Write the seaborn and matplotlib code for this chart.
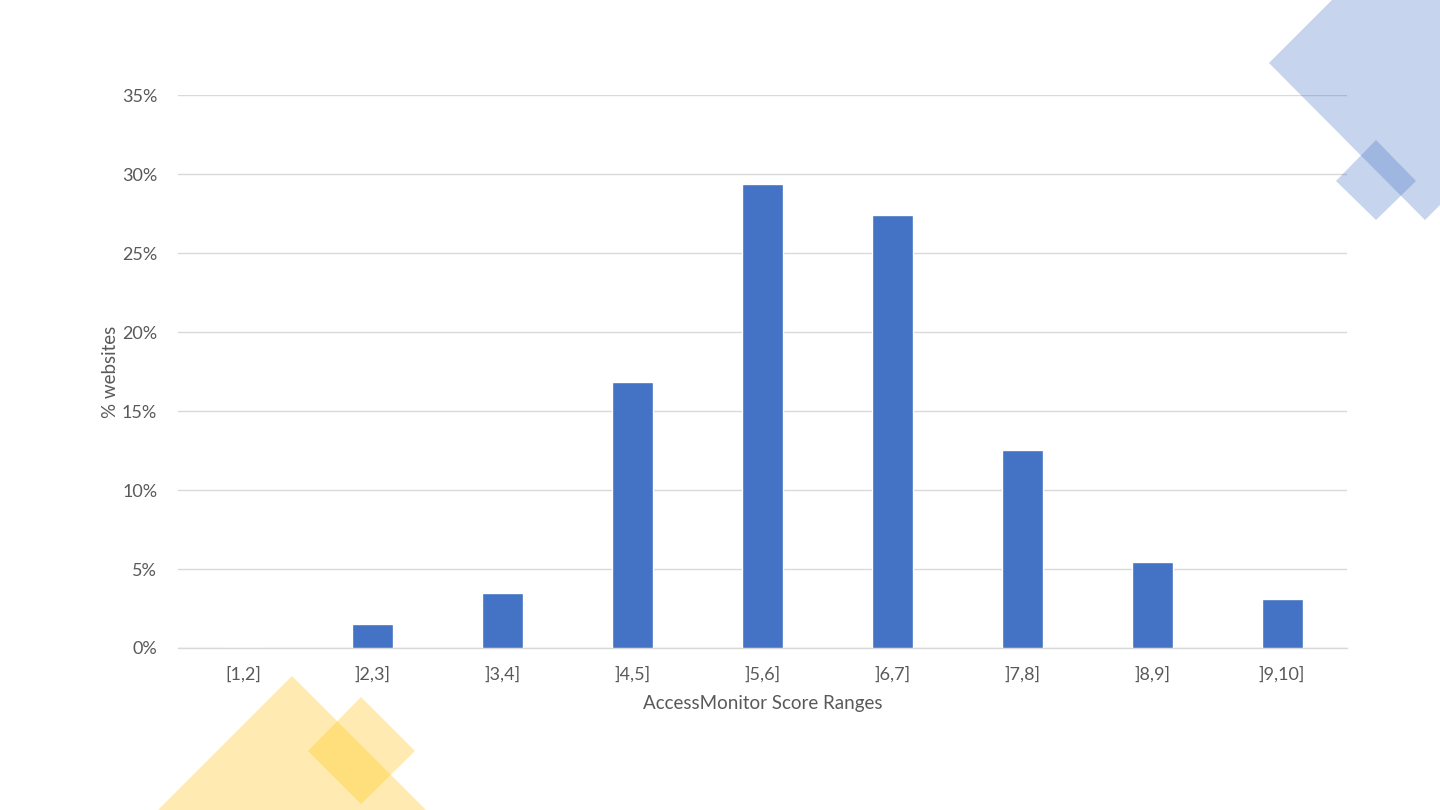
import numpy as np
import pandas as pd
import matplotlib
matplotlib.use("Agg")
import matplotlib.pyplot as plt
import seaborn as sns
from matplotlib.patches import Polygon
from matplotlib.ticker import PercentFormatter

# Score ranges and share of websites (%)
score_ranges = ["[1,2]", "]2,3]", "]3,4]", "]4,5]", "]5,6]", "]6,7]", "]7,8]", "]8,9]", "]9,10]"]
pct_websites = [0.0, 1.5, 3.5, 16.85, 29.35, 27.4, 12.55, 5.45, 3.1]

df = pd.DataFrame({"range": score_ranges, "pct": pct_websites})

sns.set_theme(style="white")
plt.rcParams["font.family"] = ["Lato", "DejaVu Sans"]

fig = plt.figure(figsize=(14.4, 8.1), dpi=100)
fig.patch.set_facecolor("white")

# Decorative shapes (figure pixel coords, y from top)
def px(points):
    return [(x / 1440, 1 - y / 810) for x, y in points]

blue = "#4472C4"
yellow = "#FFC000"
shapes = [
    (px([(1269, 63), (1469, -137), (1625, 20), (1425, 220)]), blue),
    (px([(1376, 140), (1416, 181), (1376, 220), (1336, 181)]), blue),
    (px([(292, 676), (440, 824), (292, 972), (144, 824)]), yellow),
    (px([(361, 697), (415, 751), (361, 804), (308, 751)]), yellow),
]
for pts, col in shapes:
    fig.patches.append(Polygon(pts, closed=True, transform=fig.transFigure,
                               facecolor=col, alpha=0.3, edgecolor="none", zorder=0))

ax = fig.add_axes([178 / 1440, 1 - 648 / 810, (1347 - 178) / 1440, (648 - 95) / 810])
ax.set_facecolor("none")

sns.barplot(data=df, x="range", y="pct", color=blue, saturation=1, width=0.316, ax=ax, zorder=3)

ax.set_ylim(0, 35)
ax.set_yticks(np.arange(0, 36, 5))
ax.yaxis.set_major_formatter(PercentFormatter(xmax=100, decimals=0))
ax.grid(axis="y", color="#d9d9d9", linewidth=1, zorder=0)
ax.set_axisbelow(True)
for s in ["top", "right", "left"]:
    ax.spines[s].set_visible(False)
ax.spines["bottom"].set_color("#d9d9d9")
ax.spines["bottom"].set_linewidth(1)
ax.tick_params(axis="both", length=0, colors="#595959", labelsize=13)
ax.tick_params(axis="x", pad=13)
ax.tick_params(axis="y", pad=15)

ax.set_xlabel("AccessMonitor Score Ranges", fontsize=13.5, color="#595959", labelpad=9)
ax.set_ylabel("% websites", fontsize=13.5, color="#595959", labelpad=2)

fig.savefig("out.png", dpi=100)
